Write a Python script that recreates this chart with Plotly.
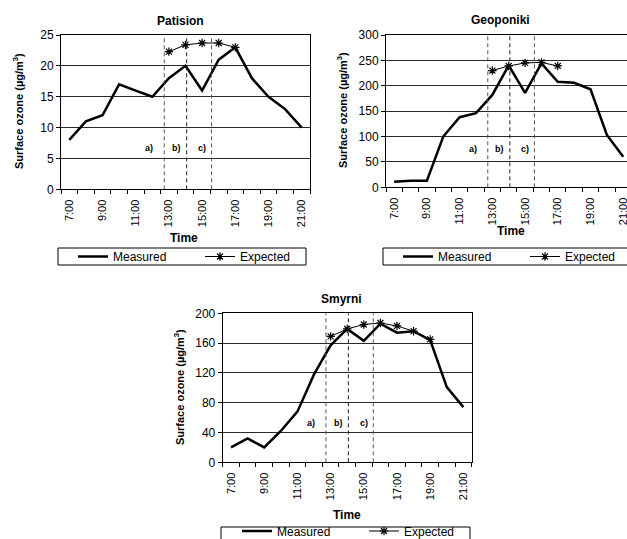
import plotly.graph_objects as go

W, H = 627, 539

# ---------------- data ----------------
hours = ["7:00", "8:00", "9:00", "10:00", "11:00", "12:00", "13:00", "14:00",
         "15:00", "16:00", "17:00", "18:00", "19:00", "20:00", "21:00"]

patision_measured = [8, 11, 12, 17, 16, 15, 18, 20, 16, 21, 23, 18, 15, 13, 10]
patision_expected_hours = ["13:00", "14:00", "15:00", "16:00", "17:00"]
patision_expected = [22.3, 23.4, 23.7, 23.7, 23.0]

geoponiki_measured = [11, 13, 13, 100, 138, 146, 182, 240, 186, 244, 208, 206, 193, 103, 60]
geoponiki_expected_hours = ["13:00", "14:00", "15:00", "16:00", "17:00"]
geoponiki_expected = [230, 239, 245, 246, 239]

smyrni_measured = [20, 32, 20, 42, 68, 118, 157, 179, 163, 186, 174, 176, 164, 101, 74]
smyrni_expected_hours = ["13:00", "14:00", "15:00", "16:00", "17:00", "18:00", "19:00"]
smyrni_expected = [169, 179, 185, 187, 183, 176, 165]

period_labels = ["a)", "b)", "c)"]
period_label_pos = [4.8, 6.45, 8.0]      # in hour-category units
period_dividers = [5.72, 7.07, 8.57]    # in hour-category units

x_idx = list(range(len(hours)))


def idx(labels):
    return [hours.index(h) for h in labels]


def px(x):
    return x / W


def py(y):
    return 1 - y / H


FONT = "Liberation Sans, Arial, sans-serif"
fig = go.Figure()

charts = [
    dict(name="Patision", meas=patision_measured, exp_h=patision_expected_hours,
         exp=patision_expected, xa="x", ya="y", leg="legend",
         xdom=[px(61), px(310)], ydom=[py(189.3), py(35)], yr=[0, 25], dt=5,
         xr=[-0.5, 14.5], title_xy=(180, 21), ytitle_xy=(18, 111), time_xy=(184, 238),
         box=(58, 248, 306, 265), leg_cy=256.5, leg_x=73, label_y=6.7, ymirror=True),
    dict(name="Geoponiki", meas=geoponiki_measured, exp_h=geoponiki_expected_hours,
         exp=geoponiki_expected, xa="x2", ya="y2", leg="legend2",
         xdom=[px(386), 1.0], ydom=[py(187.3), py(35)], yr=[0, 300], dt=50,
         xr=[-0.5, 14.23], title_xy=(501, 20), ytitle_xy=(342, 110), time_xy=(511, 231),
         box=(383, 248, 630, 265), leg_cy=256.5, leg_x=398, label_y=75, ymirror=False),
    dict(name="Smyrni", meas=smyrni_measured, exp_h=smyrni_expected_hours,
         exp=smyrni_expected, xa="x3", ya="y3", leg="legend3",
         xdom=[px(222.7), px(471.7)], ydom=[py(462.3), py(313.3)], yr=[0, 200], dt=40,
         xr=[-0.5, 14.5], title_xy=(341, 299), ytitle_xy=(179, 387), time_xy=(347, 515),
         box=(221, 527, 470, 544), leg_cy=531, leg_x=237, label_y=53, ymirror=True),
]

annotations = []
shapes = []

for i, c in enumerate(charts):
    first = i == 0
    fig.add_trace(go.Scatter(
        x=x_idx, y=c["meas"], mode="lines", name="Measured",
        line=dict(color="black", width=2.5),
        xaxis=c["xa"], yaxis=c["ya"], legend=c["leg"], showlegend=True,
    ))
    fig.add_trace(go.Scatter(
        x=idx(c["exp_h"]), y=c["exp"], mode="lines+markers", name="Expected",
        line=dict(color="black", width=1),
        marker=dict(symbol="asterisk-open", size=7, color="black",
                    line=dict(color="black", width=1.2)),
        xaxis=c["xa"], yaxis=c["ya"], legend=c["leg"], showlegend=True,
    ))

    suffix = "" if first else str(i + 1)
    bx0, by0, bx1, by1 = c["box"]
    fig.update_layout(**{
        "xaxis" + suffix: dict(
            domain=c["xdom"], anchor=c["ya"], range=c["xr"],
            tickmode="array", tickvals=x_idx[::2], ticktext=hours[::2],
            tickangle=-90, ticks="outside", ticklen=5, tickcolor="rgba(0,0,0,0)",
            ticklabeloverflow="allow",
            showline=True, linecolor="black", linewidth=1, mirror=True,
            showgrid=False, zeroline=False,
            tickfont=dict(family=FONT, size=11, color="black"),
            minor=dict(tickmode="array", tickvals=[v - 0.5 for v in x_idx] + [x_idx[-1] + 0.5],
                       ticks="outside", ticklen=4, tickcolor="black", tickwidth=1,
                       showgrid=False),
        ),
        "yaxis" + suffix: dict(
            domain=c["ydom"], anchor=c["xa"], range=c["yr"], dtick=c["dt"], tick0=0,
            ticks="outside", ticklen=4, tickcolor="black",
            showline=True, linecolor="black", linewidth=1, mirror=c["ymirror"],
            showgrid=True, gridcolor="#2a2a2a", gridwidth=1, zeroline=False,
            tickfont=dict(family=FONT, size=12, color="black"),
        ),
        c["leg"]: dict(
            x=px(c["leg_x"]), y=py(c["leg_cy"]), xanchor="left", yanchor="middle",
            orientation="h", bordercolor="rgba(0,0,0,0)", borderwidth=0,
            bgcolor="rgba(0,0,0,0)",
            font=dict(family=FONT, size=12, color="black"),
            entrywidth=82, entrywidthmode="pixels", itemwidth=30,
        ),
    })
    # legend frame
    shapes.append(dict(type="rect", xref="paper", yref="paper",
                       x0=px(bx0), x1=px(bx1), y0=py(by1), y1=py(by0),
                       line=dict(color="black", width=1), fillcolor="rgba(0,0,0,0)",
                       layer="below"))

    common = dict(xref="paper", yref="paper", showarrow=False,
                  xanchor="center", yanchor="middle")
    # Titles and axis titles
    annotations.append(dict(text="<b>%s</b>" % c["name"], x=px(c["title_xy"][0]),
                            y=py(c["title_xy"][1]),
                            font=dict(family=FONT, size=12, color="black"), **common))
    annotations.append(dict(text="<b>Surface ozone (µg/m<sup>3</sup>)</b>",
                            x=px(c["ytitle_xy"][0]), y=py(c["ytitle_xy"][1]),
                            textangle=-90,
                            font=dict(family=FONT, size=11, color="black"), **common))
    annotations.append(dict(text="<b>Time</b>", x=px(c["time_xy"][0]), y=py(c["time_xy"][1]),
                            font=dict(family=FONT, size=12, color="black"), **common))
    # period labels and dividers
    for lab, lx in zip(period_labels, period_label_pos):
        annotations.append(dict(text="<b>%s</b>" % lab, x=lx, y=c["label_y"],
                                xref=c["xa"], yref=c["ya"], showarrow=False,
                                xanchor="center", yanchor="middle",
                                font=dict(family=FONT, size=9, color="black")))
    for k, dx in enumerate(period_dividers):
        shapes.append(dict(type="line", x0=dx, x1=dx, y0=0, y1=1,
                           xref=c["xa"], yref=c["ya"] + " domain",
                           line=dict(color="#222" if k == 1 else "#555", width=1,
                                     dash="4px,3px")))

fig.update_layout(
    width=W, height=H,
    margin=dict(l=0, r=0, t=0, b=0, autoexpand=False),
    paper_bgcolor="white", plot_bgcolor="white",
    annotations=annotations, shapes=shapes,
    font=dict(family=FONT, color="black"),
)

fig.write_html(
    "out.html",
    config={"displayModeBar": False},
    post_script="document.body.style.margin='0';document.body.style.overflow='hidden';",
)
